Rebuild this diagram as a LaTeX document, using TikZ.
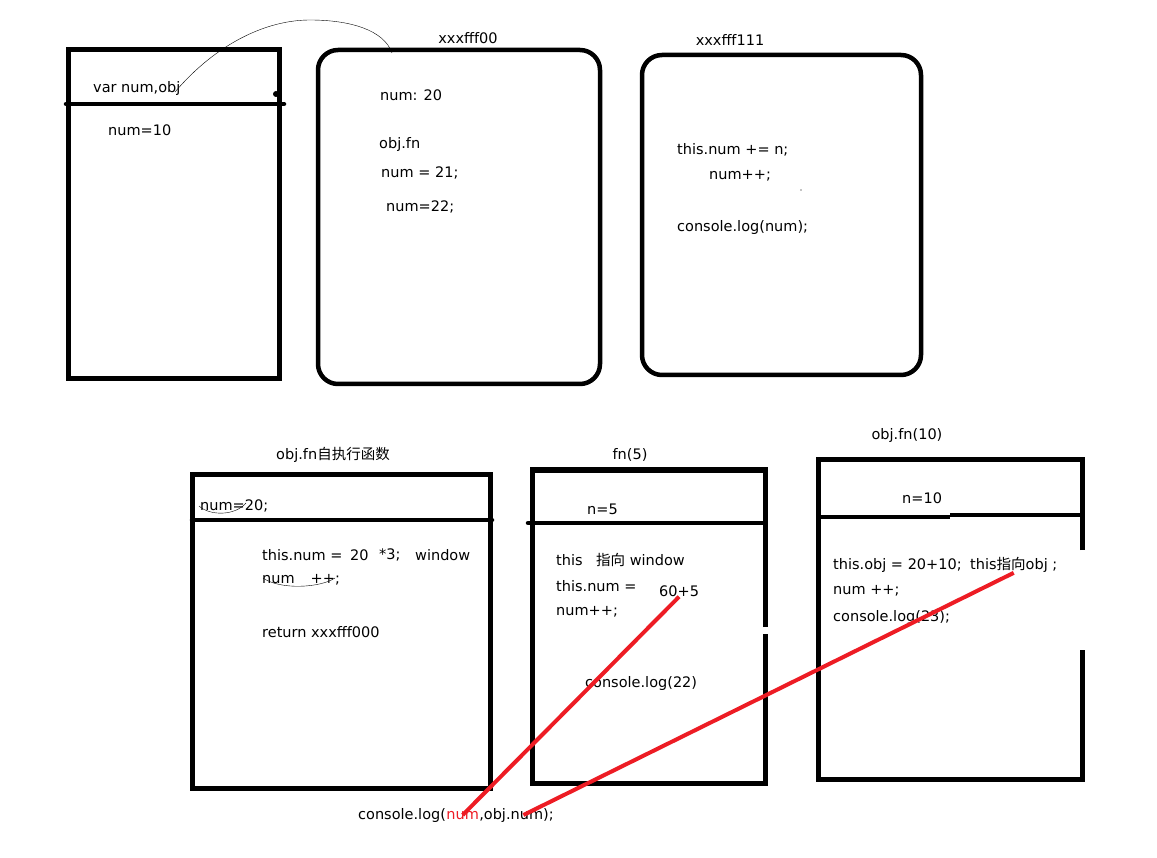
\documentclass[tikz,border=0pt]{standalone}
\usepackage{fontspec}
\setmainfont{DejaVu Sans}
\newfontfamily\cjk{Noto Sans CJK SC}
\definecolor{paintred}{RGB}{237,28,36}

\begin{document}
\begin{tikzpicture}[x=1pt,y=-1pt,
	every node/.style={inner sep=0pt, font=\fontsize{14.5}{17}\selectfont},
	txt/.style={anchor=west},
	heap/.style={draw, line width=4.5pt, rounded corners=20pt},
	bar/.style={line width=4.5pt, line cap=round},
	redline/.style={draw=paintred, line width=4pt}]
	\useasboundingbox (0,0) rectangle (1157,858);
	% stack frame
	\draw[line width=5pt] (68,50) rectangle (279,379);
	\draw[bar] (66,104) -- (284,104);
	\fill (276,94) circle (3);
	\node[txt] (varobj) at (93,89) {var num,obj};
	\node[txt] (numten) at (108,130) {num=10};
	% heap xxxfff00
	\draw[heap] (318,50) rectangle (600,384);
	\node (addrA) at (468,38) {xxxfff00};
	\node[txt] (numtw) at (380,95) {num: 20};
	\node[txt] (objfn) at (379,145) {obj.fn};
	\node[txt] (numtwa) at (381,173) {num = 21;};
	\node[txt] (numtwb) at (386,207) {num=22;};
	\coordinate (ref) at (175,92);
	\coordinate (hook) at (392,53);
	\draw[thin] (ref) .. controls (215,45) and (265,20) .. (310,20)
		.. controls (350,20) and (384,30) .. (hook);
	% heap xxxfff111
	\draw[heap] (642,55) rectangle (921,375);
	\node (addrB) at (730,40) {xxxfff111};
	\node[txt] (addn) at (677,150) {this.num += n;};
	\node[txt] (incA) at (709,176) {num++;};
	\fill (801,190) circle (0.7);
	\node[txt] (logC) at (677,228) {console.log(num);};
	% obj.fn self-invoking
	\node (selfT) at (333,455) {obj.fn{\cjk 自执行函数}};
	\draw[line width=5pt] (192,474) rectangle (490,788);
	\draw[bar] (192,520) -- (492,520);
	\node[txt] (numtwc) at (200,506) {num=20;};
	\draw[thin] (199,506) .. controls (210,516) and (235,516) .. (246,503);
	\node[txt] (thisA) at (262,555) {this.num =};
	\node[txt] (twenty) at (350,555) {20};
	\node[txt] (times) at (379,555) {*3;};
	\node[txt] (win) at (415,555) {window};
	\node[txt] (incB) at (262,580) {num\hspace{16pt}++;};
	\draw[thin] (263,578) .. controls (280,590) and (320,588) .. (335,578);
	\node[txt] (ret) at (262,632) {return xxxfff000};
	% fn(5)
	\node (fnT) at (630,455) {fn(5)};
	\draw[line width=5pt] (765,627) -- (765,470) -- (532,470) -- (532,783) -- (765,783) -- (765,634);
	\draw[bar] (528,523) -- (765,523);
	\node[txt] (nfive) at (587,509) {n=5};
	\node[txt] (thisB) at (556,560) {this};
	\node[txt] (pointB) at (596,560) {{\cjk 指向} window};
	\node[txt] (thisC) at (556,586) {this.num =};
	\node[txt] (sixty) at (659,591) {60+5};
	\node[txt] (incC) at (556,612) {num++;};
	\node[txt] (logD) at (585,683) {console.log(22)};
	% obj.fn(10)
	\node (objT) at (907,435) {obj.fn(10)};
	\draw[line width=5pt] (1082,550) -- (1082,460) -- (818,460) -- (818,779) -- (1082,779) -- (1082,650);
	\draw[line width=4.5pt] (816,517) -- (950,517);
	\draw[line width=4.5pt] (950,515) -- (1082,515);
	\node[txt] (nten) at (902,498) {n=10};
	\node[txt] (thisD) at (833,565) {this.obj = 20+10;};
	\node[txt] (thisobj) at (970,565) {this{\cjk 指向}obj ;};
	\node[txt] (incD) at (833,591) {num ++;};
	\node[txt] (logE) at (833,617) {console.log(23);};
	% output
	\node[anchor=base west] (logA) at (358,819) {console.log(};
	\node[anchor=base west, text=paintred] (lognum) at (logA.base east) {num};
	\node[anchor=base west] (logB) at (lognum.base east) {,obj.num);};
	\draw[redline] (lognum.center) -- (sixty.south);
	\draw[redline] ([xshift=7pt]logB.center) -- (thisobj.south);
\end{tikzpicture}
\end{document}
